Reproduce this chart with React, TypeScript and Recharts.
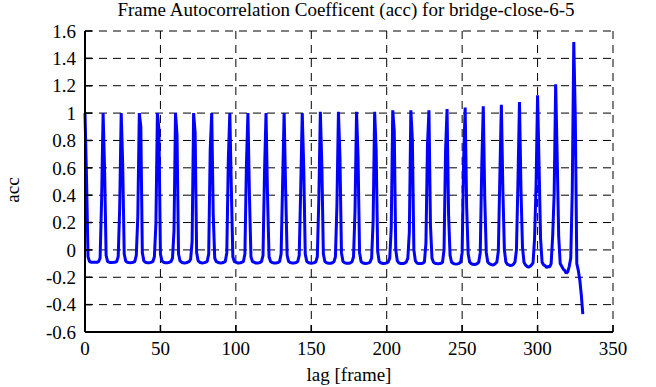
import React from "react";
import { LineChart, Line, XAxis, YAxis, CartesianGrid, Label } from "recharts";

const FONT = "Liberation Serif, Times New Roman, serif";

const title = "Frame Autocorrelation Coefficent (acc) for bridge-close-6-5";
const xLabel = "lag [frame]";
const yLabel = "acc";

const xTicks = [0, 50, 100, 150, 200, 250, 300, 350];
const yTicks = [-0.6, -0.4, -0.2, 0, 0.2, 0.4, 0.6, 0.8, 1, 1.2, 1.4, 1.6];

// acc per lag, one row per 12 frame period (row k = lags 12k .. 12k+11)
const accRows: number[][] = [
  [1.0, 0.53, -0.05, -0.085, -0.09, -0.09, -0.091, -0.09, -0.09, -0.086, -0.06, 0.36],
  [1.0, 0.58, -0.04, -0.085, -0.09, -0.092, -0.092, -0.091, -0.09, -0.085, -0.05, 0.31],
  [1.0, 0.62, -0.03, -0.082, -0.09, -0.092, -0.093, -0.092, -0.09, -0.085, -0.04, 0.24],
  [1.0, 0.9, -0.02, -0.08, -0.09, -0.093, -0.094, -0.093, -0.09, -0.085, -0.05, 0.19],
  [1.0, 0.88, -0.03, -0.08, -0.09, -0.093, -0.094, -0.093, -0.09, -0.085, -0.06, 0.14],
  [1.0, 0.84, -0.03, -0.08, -0.09, -0.094, -0.095, -0.094, -0.09, -0.085, -0.07, 0.06],
  [1.0, 0.86, -0.02, -0.08, -0.09, -0.094, -0.095, -0.093, -0.09, -0.084, -0.03, 0.73],
  [1.0, 0.26, -0.06, -0.085, -0.09, -0.094, -0.095, -0.094, -0.09, -0.085, -0.02, 0.66],
  [1.0, 0.45, -0.05, -0.085, -0.09, -0.095, -0.095, -0.094, -0.09, -0.085, -0.03, 0.62],
  [1.0, 0.4, -0.05, -0.085, -0.09, -0.095, -0.096, -0.095, -0.092, -0.085, -0.04, 0.57],
  [1.0, 0.39, -0.05, -0.085, -0.092, -0.095, -0.096, -0.095, -0.092, -0.085, -0.03, 0.49],
  [1.0, 0.44, -0.04, -0.085, -0.092, -0.095, -0.096, -0.095, -0.092, -0.085, -0.04, 0.45],
  [1.0, 0.6, -0.03, -0.085, -0.092, -0.096, -0.097, -0.096, -0.093, -0.087, -0.05, 0.37],
  [1.01, 0.62, -0.03, -0.085, -0.093, -0.097, -0.098, -0.097, -0.094, -0.087, -0.05, 0.33],
  [1.01, 0.68, -0.02, -0.085, -0.093, -0.097, -0.098, -0.097, -0.094, -0.087, -0.05, 0.29],
  [1.01, 0.68, -0.02, -0.085, -0.094, -0.098, -0.099, -0.098, -0.095, -0.088, -0.06, 0.21],
  [1.01, 0.73, -0.01, -0.085, -0.094, -0.098, -0.1, -0.098, -0.095, -0.088, -0.06, 0.16],
  [1.02, 0.87, 0.0, -0.08, -0.094, -0.099, -0.1, -0.099, -0.096, -0.088, -0.06, 0.13],
  [1.02, 0.81, 0.0, -0.08, -0.095, -0.1, -0.1, -0.1, -0.096, -0.088, 0.05, 0.76],
  [1.02, 0.18, -0.06, -0.09, -0.097, -0.1, -0.102, -0.1, -0.097, -0.09, 0.0, 0.72],
  [1.03, 0.26, -0.04, -0.09, -0.098, -0.102, -0.104, -0.102, -0.098, -0.09, -0.02, 0.66],
  [1.04, 0.31, -0.03, -0.09, -0.1, -0.105, -0.107, -0.105, -0.1, -0.09, -0.02, 0.61],
  [1.05, 0.37, -0.02, -0.09, -0.1, -0.105, -0.11, -0.108, -0.1, -0.09, -0.01, 0.54],
  [1.06, 0.44, 0.0, -0.09, -0.105, -0.11, -0.115, -0.112, -0.105, -0.09, 0.0, 0.5],
  [1.08, 0.44, 0.02, -0.09, -0.11, -0.12, -0.125, -0.12, -0.11, -0.095, 0.08, 0.47],
  [1.13, 0.61, 0.08, -0.09, -0.11, -0.115, -0.13, -0.12, -0.125, -0.1, 0.1, 0.41],
  [1.21, 0.68, 0.1, -0.1, -0.12, -0.14, -0.15, -0.17, -0.16, -0.12, -0.06, 0.43],
  [1.52, 0.97, -0.1, -0.15, -0.22, -0.33, -0.47],
];

const data = accRows.flat().map((acc, lag) => ({ lag, acc }));

const tickLineStyle = { stroke: "#000", strokeWidth: 1.5 };
const axisLineStyle = { stroke: "#000", strokeWidth: 2 };
const textStyle = { fontFamily: FONT, fontSize: 19, fill: "#000" };

const fmt = (v: number) => String(+v.toFixed(1));

// plain serif tick text, so the font is ours and not recharts' default
const XTick = (props: any) => {
  const { x, y, payload } = props;
  return (
    <text x={x} y={y} dy="0.71em" textAnchor="middle" style={textStyle}>
      {fmt(payload.value)}
    </text>
  );
};

const YTick = (props: any) => {
  const { x, y, payload } = props;
  return (
    <text x={x} y={y} dy="0.355em" textAnchor="end" style={textStyle}>
      {fmt(payload.value)}
    </text>
  );
};

const XLabel = (props: any) => {
  const vb = props.viewBox || { x: 85, y: 332, width: 528, height: 55 };
  return (
    <text x={vb.x + vb.width / 2} y={vb.y + 49} textAnchor="middle" style={textStyle}>
      {xLabel}
    </text>
  );
};

const YLabel = (props: any) => {
  const vb = props.viewBox || { x: 0, y: 31, width: 85, height: 301 };
  const x = vb.x + 19;
  const y = vb.y + vb.height / 2 + 8.5;
  return (
    <text
      x={x}
      y={y}
      transform={`rotate(-90 ${x} ${y})`}
      textAnchor="middle"
      style={textStyle}
    >
      {yLabel}
    </text>
  );
};

export default function App() {
  return (
    <div
      style={{
        position: "absolute",
        left: 0,
        top: 0,
        width: 656,
        height: 387,
        background: "#fff",
        fontFamily: FONT,
      }}
    >
      <div
        style={{
          position: "absolute",
          top: 0,
          left: 346,
          transform: "translateX(-50%)",
          whiteSpace: "nowrap",
          fontSize: 19,
          lineHeight: "19px",
          color: "#000",
        }}
      >
        {title}
      </div>
      <LineChart
        width={656}
        height={387}
        data={data}
        margin={{ top: 31, right: 43, bottom: 0, left: 0 }}
        style={{ fontFamily: FONT }}
      >
        <CartesianGrid
          xAxisId="bottom"
          yAxisId="left"
          stroke="#000"
          strokeWidth={1}
          strokeDasharray="8 6"
        />
        <XAxis
          xAxisId="bottom"
          dataKey="lag"
          type="number"
          domain={[0, 350]}
          ticks={xTicks}
          interval={0}
          height={55}
          tickSize={-7}
          tickMargin={17}
          tick={XTick}
          tickLine={tickLineStyle}
          axisLine={axisLineStyle}
          label={<Label content={XLabel} />}
        />
        <XAxis
          xAxisId="top"
          orientation="top"
          dataKey="lag"
          type="number"
          domain={[0, 350]}
          ticks={xTicks}
          interval={0}
          height={0}
          tickSize={-7}
          tick={false}
          tickLine={tickLineStyle}
          axisLine={axisLineStyle}
        />
        <YAxis
          yAxisId="left"
          type="number"
          domain={[-0.6, 1.6]}
          ticks={yTicks}
          interval={0}
          width={85}
          tickSize={-7}
          tickMargin={16}
          tick={YTick}
          tickLine={tickLineStyle}
          axisLine={axisLineStyle}
          label={<Label content={YLabel} />}
        />
        <YAxis
          yAxisId="right"
          orientation="right"
          type="number"
          domain={[-0.6, 1.6]}
          ticks={yTicks}
          interval={0}
          width={0}
          tickSize={-7}
          tick={false}
          tickLine={tickLineStyle}
          axisLine={axisLineStyle}
        />
        <Line
          xAxisId="bottom"
          yAxisId="left"
          type="linear"
          dataKey="acc"
          stroke="#0000ff"
          strokeWidth={3}
          strokeLinejoin="bevel"
          dot={false}
          activeDot={false}
          isAnimationActive={false}
        />
      </LineChart>
    </div>
  );
}
